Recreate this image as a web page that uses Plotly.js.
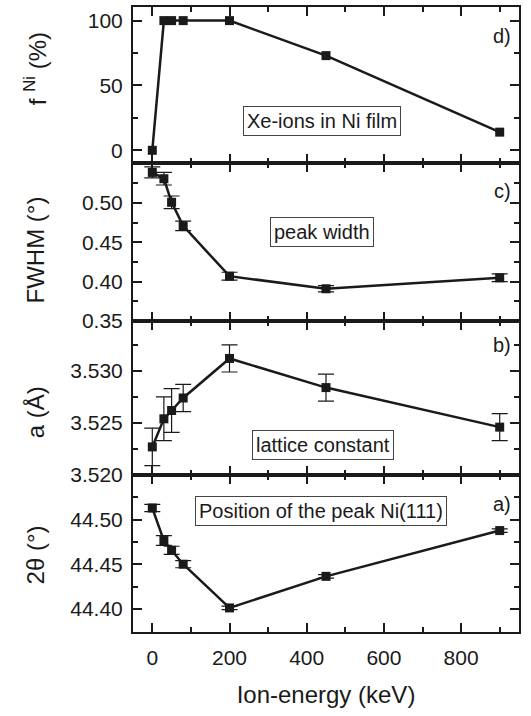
<!DOCTYPE html>
<html>
<head>
<meta charset="utf-8">
<script src="https://cdn.plot.ly/plotly-3.0.1.min.js"></script>
<style>
  html, body { margin: 0; padding: 0; background: #fff; }
  #chart { width: 531px; height: 716px; }
</style>
</head>
<body>
<div id="chart"></div>
<script>
// Ion energy of the Xe implantation (keV)
const energy = [0, 30, 50, 80, 200, 450, 900];

// d) fraction of Ni (%)
const fNi = [0, 100, 100, 100, 100, 73, 14];

// c) peak width, FWHM (deg)
const fwhm = [0.539, 0.531, 0.501, 0.471, 0.407, 0.391, 0.405];
const fwhmErr = [0.007, 0.008, 0.008, 0.006, 0.005, 0.004, 0.005];

// b) lattice constant (Angstrom)
const lattice = [3.5227, 3.5254, 3.5262, 3.5274, 3.5312, 3.5284, 3.5246];
const latticeErr = [0.0018, 0.0021, 0.0021, 0.0013, 0.0013, 0.0013, 0.0013];

// a) position of the Ni(111) peak, 2theta (deg)
const peakPos = [44.513, 44.4765, 44.4656, 44.450, 44.401, 44.4364, 44.4877];
const peakPosErr = [0.004, 0.0055, 0.0045, 0.004, 0.002, 0.002, 0.002];

const xTicks = [0, 200, 400, 600, 800];
const fTicks = [0, 50, 100];
const fwhmTicks = [0.35, 0.40, 0.45, 0.50];
const latticeTicks = [3.520, 3.525, 3.530];
const peakTicks = [44.40, 44.45, 44.50];

const ink = '#1a1a1a';
const font = 'Liberation Sans, Arial, Helvetica, sans-serif';

function series(y, err, xa, ya) {
  const t = {
    x: energy, y: y, xaxis: xa, yaxis: ya,
    type: 'scatter', mode: 'lines+markers',
    line: { color: ink, width: 2.5 },
    marker: { symbol: 'square', size: 9, color: ink },
    showlegend: false, hoverinfo: 'x+y'
  };
  if (err) {
    t.error_y = { type: 'data', array: err, visible: true,
                  color: ink, thickness: 1.2, width: 8 };
  }
  return t;
}

const data = [
  series(peakPos, peakPosErr, 'x', 'y'),
  series(lattice, latticeErr, 'x2', 'y2'),
  series(fwhm, fwhmErr, 'x3', 'y3'),
  series(fNi, null, 'x4', 'y4')
];

function xAxis(anchor, labels) {
  return {
    anchor: anchor, matches: anchor === 'y' ? undefined : 'x',
    range: [-50, 950], domain: [0, 1],
    tickmode: 'array', tickvals: xTicks,
    showticklabels: labels,
    ticks: 'inside', ticklen: 9, tickwidth: 2, tickcolor: ink,
    minor: { tickmode: 'linear', tick0: 100, dtick: 200,
             ticks: 'inside', ticklen: 5, tickwidth: 2, tickcolor: ink },
    showline: true, linewidth: 2, linecolor: ink, mirror: 'ticks',
    showgrid: false, zeroline: false,
    tickfont: { family: font, size: 21, color: ink },
    ticklabelstandoff: 6
  };
}

function yAxis(domain, range, ticks, fmt, minorStart, minorStep) {
  return {
    domain: domain, range: range, anchor: domain[0] === 0 ? 'x' : undefined,
    tickmode: 'array', tickvals: ticks, tickformat: fmt,
    ticks: 'inside', ticklen: 9, tickwidth: 2, tickcolor: ink,
    minor: { tickmode: 'linear', tick0: minorStart, dtick: minorStep,
             ticks: 'inside', ticklen: 5, tickwidth: 2, tickcolor: ink },
    showline: true, linewidth: 2, linecolor: ink, mirror: 'ticks',
    showgrid: false, zeroline: false,
    tickfont: { family: font, size: 21, color: ink },
    ticklabelstandoff: 4
  };
}

const annText = { family: font, size: 20, color: ink };
const titleText = { family: font, size: 24, color: ink };

function boxNote(text, x, y, xr, yr) {
  return { text: text, x: x, y: y, xref: xr, yref: yr,
           showarrow: false, font: annText,
           bordercolor: '#444', borderwidth: 1, borderpad: 3, bgcolor: '#fff' };
}
function panelTag(text, yr, y) {
  return { text: text, x: 0.985, y: y, xref: 'paper', yref: yr,
           xanchor: 'right', yanchor: 'middle', showarrow: false, font: annText };
}
function yTitle(text, y) {
  return { text: text, x: -0.253, y: y, xref: 'paper', yref: 'paper',
           xanchor: 'center', yanchor: 'middle', textangle: -90,
           showarrow: false, font: titleText };
}

const layout = {
  width: 531, height: 716,
  margin: { l: 133, r: 12, t: 7, b: 84 },
  paper_bgcolor: '#fff', plot_bgcolor: '#fff',
  font: { family: font, color: ink },
  xaxis: Object.assign(xAxis('y', true), {
    title: { text: 'Ion-energy (keV)', font: titleText, standoff: 18 }
  }),
  xaxis2: xAxis('y2', false),
  xaxis3: xAxis('y3', false),
  xaxis4: xAxis('y4', false),
  yaxis: yAxis([0, 0.2512], [44.374, 44.55], peakTicks, '.2f', 44.425, 0.05),
  yaxis2: Object.assign(yAxis([0.2512, 0.4976], [3.520, 3.5348], latticeTicks, '.3f', 3.5225, 0.005), { anchor: 'x2' }),
  yaxis3: Object.assign(yAxis([0.4976, 0.7504], [0.35, 0.551], fwhmTicks, '.2f', 0.375, 0.05), { anchor: 'x3' }),
  yaxis4: Object.assign(yAxis([0.7504, 1], [-9.8, 110.5], fTicks, 'd', 25, 50), { anchor: 'x4' }),
  annotations: [
    boxNote('Xe-ions in Ni film', 440, 22.6, 'x4', 'y4'),
    boxNote('peak width', 440, 0.463, 'x3', 'y3'),
    boxNote('lattice constant', 443, 3.5229, 'x2', 'y2'),
    boxNote('Position of the peak Ni(111)', 437, 44.5093, 'x', 'y'),
    panelTag('d)', 'y4', 88),
    panelTag('c)', 'y3', 0.515),
    panelTag('b)', 'y2', 3.5325),
    panelTag('a)', 'y', 44.518),
    yTitle('f <sup>Ni</sup> (%)', 0.901),
    yTitle('FWHM (°)', 0.611),
    yTitle('a (Å)', 0.352),
    yTitle('2θ (°)', 0.123)
  ]
};

Plotly.newPlot('chart', data, layout, { displayModeBar: false, staticPlot: true });
</script>
</body>
</html>
